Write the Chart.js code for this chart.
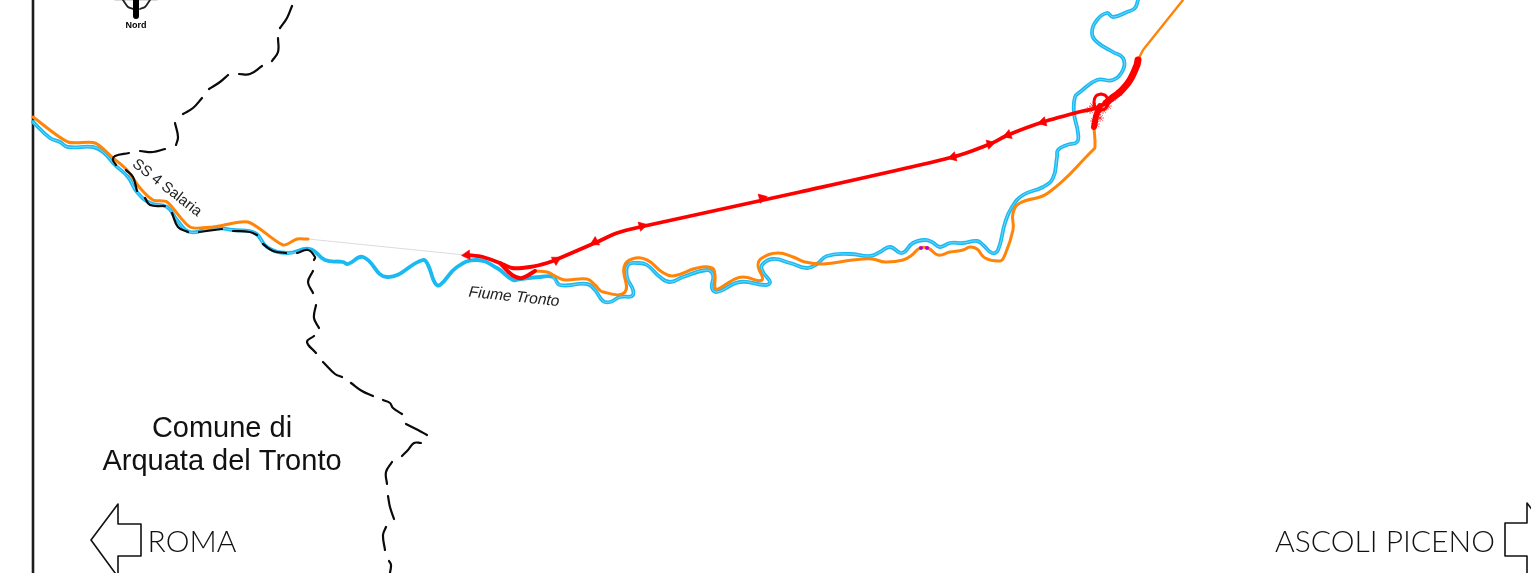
<!DOCTYPE html>
<html>
<head>
<meta charset="utf-8">
<title>Fiume Tronto</title>
<script src="https://cdn.jsdelivr.net/npm/chart.js@4"></script>
<style>
html, body { margin: 0; padding: 0; background: #fff; overflow: hidden; }
canvas { display: block; }
</style>
</head>
<body>
<canvas id="mapChart" width="1531" height="573"></canvas>
<script>
// --- map data, in sheet units ---
const riverX = [33,50,60,68,93,103,115,128,137,150,167,177,190,213,233,255,267,287,310,325,343,348,363,387,423,428,435,440,457,477,497,513,520,540,553,560,587,595,603,610,620,632,633,627,628,637,647,660,670,683,707,713,712,717,740,765,770,763,762,773,790,807,817,827,850,870,880,890,902,913,925,932,940,950,963,977,983,992,998,1005,1012,1023,1043,1053,1057,1058,1067,1077,1078,1074,1075,1080,1097,1113,1123,1123,1113,1097,1092,1097,1107,1113,1127,1135,1138];
const riverY = [122,138,142,147,147,152,165,177,192,203,207,220,232,228,230,233,247,253,249,260,262,264,257,277,260,265,283,285,267,260,268,280,279,277,277,285,284,290,301,302,297,296,290,277,265,263,265,277,282,277,270,275,288,292,282,285,282,272,265,259,263,268,264,256,254,256,252,247,253,243,240,242,247,243,243,241,245,253,250,223,207,195,187,178,157,150,145,142,133,113,97,92,80,80,70,58,52,42,33,20,13,17,12,8,0];

const roadWestX = [33,68,95,113,127,140,153,167,190,213,248,283,297,308];
const roadWestY = [117,142,143,158,170,188,200,202,227,227,222,245,239,239];
const roadEastX = [535,547,557,565,587,595,603,625,624,632,647,662,673,697,712,715,715,718,733,743,762,758,762,778,793,805,823,853,872,885,903,912,920,928,938,950,963,970,977,985,1000,1004,1013,1013,1020,1048,1093,1095,1094];
const roadEastY = [271,272,277,280,279,285,292,292,267,259,260,272,276,268,268,275,288,289,280,277,280,265,258,253,257,262,264,260,259,262,260,255,248,248,255,252,250,247,249,258,261,257,230,213,203,193,150,147,127];
const roadNorthX = [1138,1143,1183];
const roadNorthY = [60,50,0];
const gapX = [308,465];
const gapY = [239,255];

const viaductX = [467,483,500,512,530,547,560,597,617,640,800,953,990,1008,1043,1083,1097,1104];
const viaductY = [255,257,263,268,267,263,258,242,233,227,192,157,144,135,122,111,108,104];
const loopX = [500,512,522,535];
const loopY = [263,275,278,271];
const rampX = [1106,1112,1120,1130,1137,1138];
const rampY = [103,98,92,80,65,60];
const stubX = [1100,1096,1094];
const stubY = [106,116,127];
const ringX = [1101,1106,1108,1106,1101,1096,1094,1096,1101];
const ringY = [94,96,102,108,110,108,102,96,94];
const arrowX = [467,556,595,642,762,953,990,1008,1043];
const arrowY = [255,260,242,226,198,157,144,135,122];
const arrowTurn = [-95,60,-118,75,75,-105,75,-110,-105];
const fuzzX = [1090,1093,1098,1103,1094,1100,1108,1113,1119,1096];
const fuzzY = [110,106,112,110,121,118,106,98,93,124];
const siteX = [921,927];
const siteY = [248,248];

// municipal boundary, null starts a new dash
const boundaryX = [292,287,280,null,278,278,272,null,262,250,239,null,228,220,209,null,202,193,183,null,175,178,176,null,165,153,140,null,129,115,113,116,null,126,133,137,null,145,150,165,null,172,178,188,null,199,222,null,233,250,257,null,263,273,286,null,297,308,315,314,null,313,308,313,null,316,314,319,null,314,307,316,null,323,335,342,null,351,362,373,null,383,390,393,402,null,406,418,427,null,421,414,408,402,null,392,386,387,null,388,390,394,null,386,383,385,null,389,391,390];
const boundaryY = [6,18,28,null,38,52,61,null,66,74,74,null,75,82,89,null,98,108,114,null,123,137,145,null,149,152,151,null,153,156,160,165,null,170,177,191,null,198,205,206,null,213,227,232,null,232,229,null,231,232,235,null,244,251,253,null,253,250,257,260,null,271,282,293,null,305,318,328,null,336,342,353,null,362,374,377,null,383,391,396,null,400,403,408,414,null,424,430,435,null,443,443,450,456,null,462,472,484,null,496,507,519,null,527,535,550,null,561,565,573];

const frameX = [33,33];
const frameY = [0,573];
const romaArrowX = [118,118,141,141,118,118,91,118];
const romaArrowY = [577,556,556,524,524,504,540,577];
const ascoliArrowX = [1527,1527,1505,1505,1527,1527,1555];
const ascoliArrowY = [577,556,556,523,523,503,540];
const compassX = [123,128,133,null,150,145,140];
const compassY = [0,7,9,null,0,7,9];
const needleX = [136,136];
const needleY = [0,16];
const compassBarX = [115,157];
const compassBarY = [0,0];

const labelText = ['Nord','SS 4 Salaria','Fiume Tronto','Comune di','Arquata del Tronto','ROMA','ASCOLI PICENO'];

function pts(xs, ys) { return xs.map((x, i) => ({ x: x, y: ys[i] })); }

function line(xs, ys, color, width, tension) {
    return { data: pts(xs, ys), borderColor: color, backgroundColor: color, borderWidth: width, pointRadius: 0, tension: tension || 0, borderCapStyle: 'round', borderJoinStyle: 'round' };
}

// white thread along the stretches drawn as a double line
const coreX = riverX.map(x => (x > 320 && x < 545) ? null : x);
const coreY = riverY.map((y, i) => coreX[i] === null ? null : y);

const labelPlugin = {
    id: 'mapLabels',
    afterDraw(chart) {
        const c = chart.ctx; const sx = chart.scales.x; const sy = chart.scales.y;
        function put(i, x, y, font, color, deg) {
            c.save();
            c.translate(sx.getPixelForValue(x), sy.getPixelForValue(y));
            c.rotate(deg * Math.PI / 180);
            c.font = font; c.fillStyle = color; c.textAlign = 'center'; c.textBaseline = 'middle';
            c.fillText(labelText[i], 0, 0);
            c.restore();
        }
        put(0, 136, 26, 'bold 9px "Liberation Sans"', '#000', 0);
        put(1, 167, 188, '15px "Liberation Sans"', '#222', 38);
        put(2, 514, 297, 'italic 15.5px "Liberation Sans"', '#222', 6);
        put(3, 222, 429, '29px "Liberation Sans"', '#111', 0);
        put(4, 222, 462, '29px "Liberation Sans"', '#111', 0);
        put(5, 192, 542, '300 30px Lato', '#111', 0);
        put(6, 1385, 542, '300 30px Lato', '#111', 0);
    }
};

const arrowSet = { data: pts(arrowX, arrowY), showLine: false, pointStyle: 'triangle', pointRadius: 5.5, pointRotation: arrowTurn, backgroundColor: '#ff0000', borderColor: 'rgba(255,0,0,.6)', borderWidth: 1 };
const fuzzSet = { data: pts(fuzzX, fuzzY), showLine: false, pointStyle: 'star', pointRadius: 4, backgroundColor: '#ff0000', borderColor: 'rgba(255,0,0,.6)', borderWidth: 1 };
const siteSet = { data: pts(siteX, siteY), showLine: false, pointStyle: 'circle', pointRadius: 2, backgroundColor: '#b400e6', borderColor: '#b400e6', borderWidth: 0 };

const mapChart = new Chart(document.getElementById('mapChart').getContext('2d'), {
    type: 'line',
    data: {
        // first dataset ends up on top
        datasets: [
            arrowSet, fuzzSet,
            line(viaductX, viaductY, '#ff0000', 3.8, 0.25),
            line(loopX, loopY, '#ff0000', 4, 0.3),
            line(rampX, rampY, '#ff0000', 7, 0.3),
            line(stubX, stubY, '#ff0000', 6),
            line(ringX, ringY, '#ff0000', 3, 0.4),
            siteSet,
            line(boundaryX, boundaryY, '#0a0a0a', 2.2, 0.4),
            line(roadWestX, roadWestY, '#ff8408', 3, 0.25),
            line(roadEastX, roadEastY, '#ff8408', 3, 0.45),
            line(roadNorthX, roadNorthY, '#ff8408', 2.4),
            line(gapX, gapY, '#dcdcdc', 1.2),
            line(coreX, coreY, 'rgba(255,255,255,.5)', 0.8, 0.45),
            line(riverX, riverY, '#19b9f2', 3.8, 0.45),
            line(frameX, frameY, '#1c1c1c', 2.6),
            line(romaArrowX, romaArrowY, '#111', 1.6),
            line(ascoliArrowX, ascoliArrowY, '#111', 1.6),
            line(needleX, needleY, '#000', 6),
            line(compassX, compassY, '#222', 1.8, 0.3),
            line(compassBarX, compassBarY, '#cfcfcf', 1.5)
        ]
    },
    options: {
        responsive: false, animation: false, events: [],
        layout: { padding: 0, autoPadding: false },
        scales: {
            x: { type: 'linear', display: false, min: 0, max: 1531 },
            y: { type: 'linear', display: false, min: 0, max: 573, reverse: true }
        },
        plugins: { legend: { display: false }, tooltip: { enabled: false } }
    },
    plugins: [labelPlugin]
});
</script>
</body>
</html>
